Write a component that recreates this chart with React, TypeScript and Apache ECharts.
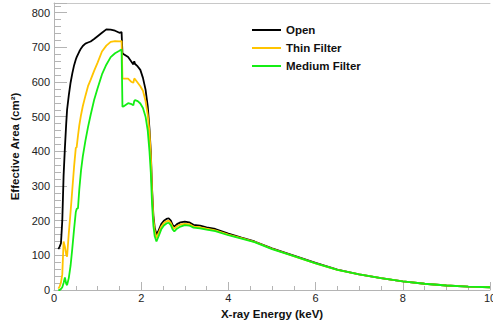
import React, { useEffect, useRef } from "react";
import * as echarts from "echarts";

const energy = [
  0.10, 0.13, 0.16, 0.19, 0.22, 0.25, 0.28, 0.30, 0.34, 0.38, 0.42, 0.46, 0.50, 0.52, 0.55, 0.58,
  0.62, 0.66, 0.72, 0.78, 0.84, 0.92, 1.00, 1.10, 1.20, 1.30, 1.40, 1.50, 1.55, 1.57, 1.60, 1.70,
  1.78, 1.82, 1.84, 1.86, 1.92, 1.98, 2.04, 2.10, 2.15, 2.19, 2.22, 2.25, 2.28, 2.31, 2.35, 2.40,
  2.46, 2.52, 2.58, 2.63, 2.68, 2.72, 2.76, 2.82, 2.90, 3.00, 3.10, 3.20, 3.35, 3.50, 3.70, 4.00,
  4.30, 4.60, 5.00, 5.50, 6.00, 6.50, 7.00, 7.50, 8.00, 8.50, 9.00, 9.50, 10.0,
];

const openArea = [
  118, 125, 135, 200, 330, 410, 480, 520, 562, 598, 625, 648, 665, 672, 680, 688,
  697, 704, 711, 714, 717, 724, 732, 742, 752, 751, 748, 742, 744, 683, 680, 672,
  658, 651, 660, 652, 645, 635, 612, 578, 530, 465, 400, 290, 215, 180, 160, 172,
  190, 200, 205, 207, 200, 188, 183, 190, 195, 197, 195, 188, 186, 181, 176, 163,
  151, 140, 120, 99, 78, 59, 45, 34, 25, 18, 13, 10, 8,
];

const thinArea = [
  4, 10, 22, 45, 140, 125, 102, 96, 165, 225, 290, 355, 410, 412, 445, 475,
  505, 530, 560, 588, 606, 632, 656, 688, 705, 716, 718, 717, 718, 611, 610, 610,
  600, 598, 610, 608, 598, 588, 575, 545, 505, 455, 390, 280, 205, 170, 150, 165,
  183, 193, 198, 200, 193, 182, 177, 184, 189, 191, 190, 183, 181, 177, 172, 160,
  150, 139, 119, 98, 77, 58, 45, 34, 25, 18, 13, 10, 8,
];

const mediumArea = [
  0, 0, 3, 8, 20, 36, 18, 14, 35, 70, 120, 175, 225, 234, 236, 290,
  345, 385, 430, 470, 505, 548, 582, 622, 650, 672, 683, 690, 694, 529, 530, 539,
  536, 533, 545, 548, 545, 538, 525, 500, 460, 400, 340, 245, 185, 155, 140, 155,
  175, 186, 192, 194, 187, 175, 169, 177, 183, 187, 186, 180, 178, 174, 170, 158,
  148, 138, 118, 98, 77, 58, 45, 34, 25, 18, 13, 10, 8,
];

const seriesNames = ["Open", "Thin Filter", "Medium Filter"];
const seriesColors = ["#000000", "#ffc400", "#14ee14"];
const seriesValues = [openArea, thinArea, mediumArea];

const FONT = "'Liberation Sans', Arial, Helvetica, sans-serif";
const AXIS_GRAY = "#b4b4b4";

export default function App() {
  const ref = useRef<HTMLDivElement>(null);

  useEffect(() => {
    if (!ref.current) return;
    const chart = echarts.init(ref.current, undefined, { renderer: "svg" });
    chart.setOption({
      animation: false,
      backgroundColor: "#ffffff",
      textStyle: { fontFamily: FONT },
      grid: { left: 54, right: 3, top: 3, bottom: 30, containLabel: false, outerBoundsMode: "none" },
      legend: {
        orient: "vertical",
        left: 252,
        top: 23,
        padding: 0,
        icon: "rect",
        itemWidth: 29,
        itemHeight: 2,
        itemGap: 4,
        data: seriesNames,
        textStyle: {
          fontFamily: FONT,
          fontWeight: "bold",
          fontSize: 11.5,
          color: "#111",
          lineHeight: 14,
          height: 14,
        },
      },
      xAxis: [
        {
          type: "value",
          min: 0,
          max: 10,
          interval: 2,
          name: "X-ray Energy (keV)",
          nameLocation: "middle",
          nameGap: 14,
          nameTextStyle: { fontFamily: FONT, fontWeight: "bold", fontSize: 11.5, color: "#111" },
          axisLine: { show: true, lineStyle: { color: AXIS_GRAY, width: 1 } },
          axisTick: { show: true, inside: true, length: 8, lineStyle: { color: AXIS_GRAY } },
          minorTick: { show: true, splitNumber: 4, length: 4, lineStyle: { color: AXIS_GRAY } },
          axisLabel: { fontFamily: FONT, fontSize: 11, color: "#222", margin: 2 },
          splitLine: { show: false },
        },
        {
          type: "value",
          position: "top",
          min: 0,
          max: 10,
          axisLine: { show: true, onZero: false, lineStyle: { color: "#c8c8c8", width: 1 } },
          axisTick: { show: false },
          axisLabel: { show: false },
          splitLine: { show: false },
        },
      ],
      yAxis: {
        type: "value",
        min: 0,
        max: 828,
        interval: 100,
        name: "Effective Area (cm²)",
        nameLocation: "middle",
        nameGap: 31,
        nameTextStyle: { fontFamily: FONT, fontWeight: "bold", fontSize: 11.5, color: "#111" },
        axisLine: { show: true, lineStyle: { color: AXIS_GRAY, width: 1 } },
        axisTick: { show: true, inside: true, length: 13, lineStyle: { color: AXIS_GRAY } },
        minorTick: { show: true, splitNumber: 5, length: 7, lineStyle: { color: AXIS_GRAY } },
        axisLabel: {
          fontFamily: FONT,
          fontSize: 11,
          color: "#222",
          margin: 4,
          formatter: (v: number) => (v % 100 === 0 ? String(v) : ""),
        },
        splitLine: { show: false },
      },
      series: seriesNames.map((name, i) => ({
        name,
        type: "line",
        xAxisIndex: 0,
        symbol: "none",
        smooth: false,
        color: seriesColors[i],
        lineStyle: { color: seriesColors[i], width: 1.8 },
        data: energy.map((e, k) => [e, seriesValues[i][k]]),
      })),
    });
    return () => chart.dispose();
  }, []);

  return <div ref={ref} style={{ width: 493, height: 320, position: "absolute", left: 0, top: 0 }} />;
}
